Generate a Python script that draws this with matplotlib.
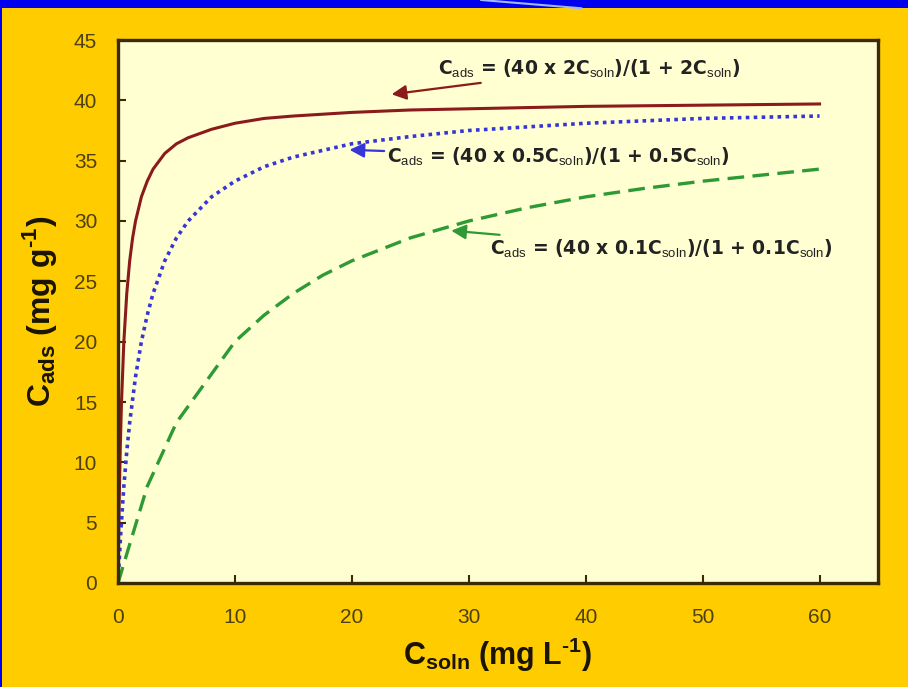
import matplotlib.pyplot as plt
from matplotlib.lines import Line2D

plt.rcParams['font.family'] = ['Liberation Sans', 'DejaVu Sans']
plt.rcParams['mathtext.fontset'] = 'custom'
plt.rcParams['mathtext.rm'] = 'Liberation Sans'
plt.rcParams['mathtext.bf'] = 'Liberation Sans:bold'

# Langmuir isotherms, values read at fixed solution concentrations
c_soln_k2 = [0, 0.05, 0.1, 0.2, 0.3, 0.5, 0.75, 1, 1.25, 1.5, 2, 2.5, 3, 4, 5, 6, 8, 10,
             12.5, 15, 20, 25, 30, 40, 50, 60]
c_ads_k2 = [0, 3.6, 6.7, 11.4, 15.0, 20.0, 24.0, 26.7, 28.6, 30.0, 32.0, 33.3, 34.3, 35.6,
            36.4, 36.9, 37.6, 38.1, 38.5, 38.7, 39.0, 39.2, 39.3, 39.5, 39.6, 39.7]

c_soln_k05 = [0, 0.25, 0.5, 0.75, 1, 1.5, 2, 2.5, 3, 4, 5, 6, 8, 10, 12.5, 15, 20, 25, 30,
              40, 50, 60]
c_ads_k05 = [0, 4.4, 8.0, 10.9, 13.3, 17.1, 20.0, 22.2, 24.0, 26.7, 28.6, 30.0, 32.0, 33.3,
             34.5, 35.3, 36.4, 37.0, 37.5, 38.1, 38.5, 38.7]

c_soln_k01 = [0, 2.5, 5, 10, 12.5, 15, 17.5, 20, 25, 30, 35, 40, 45, 50, 55, 60]
c_ads_k01 = [0, 8.0, 13.3, 20.0, 22.2, 24.0, 25.5, 26.7, 28.6, 30.0, 31.1, 32.0, 32.7, 33.3,
             33.8, 34.3]

x_ticks = [0, 10, 20, 30, 40, 50, 60]
y_ticks = [0, 5, 10, 15, 20, 25, 30, 35, 40, 45]

gold = '#FFCC00'
frame = '#3A2A08'
tick_col = '#4E4010'

fig = plt.figure(figsize=(9.08, 6.87), dpi=100, facecolor=gold)

# blue slide header and edge
fig.patches.append(plt.Rectangle((0, 0.988), 1, 0.012, transform=fig.transFigure,
                                 facecolor='#0000EE', edgecolor='none', zorder=0))
fig.patches.append(plt.Rectangle((0, 0), 0.0025, 1, transform=fig.transFigure,
                                 facecolor='#0000EE', edgecolor='none', zorder=0))
fig.lines.append(Line2D([0.53, 0.64], [1.0, 0.988], transform=fig.transFigure,
                        color='#9FB8FF', lw=1.5, zorder=1))

ax = fig.add_axes([118 / 908, 104 / 687, 760 / 908, 543 / 687])
ax.set_facecolor('#FFFFD2')

ax.plot(c_soln_k2, c_ads_k2, color='#8B1A1A', lw=2.2)
ax.plot(c_soln_k05, c_ads_k05, color='#3535D8', lw=2.6, linestyle=(0, (1, 1.2)))
ax.plot(c_soln_k01, c_ads_k01, color='#2E9A35', lw=2.4, linestyle=(0, (5, 2.5)))

ax.set_xlim(0, 65)
ax.set_ylim(0, 45)
ax.set_xticks(x_ticks)
ax.set_yticks(y_ticks)
ax.tick_params(direction='in', length=6, width=1.5, color=frame, labelcolor=tick_col,
               labelsize=15)
ax.tick_params(axis='y', pad=15)
ax.tick_params(axis='x', pad=18)
for s in ax.spines.values():
    s.set_color(frame)
    s.set_linewidth(2.4)

ax.set_xlabel('C$_{\\mathbf{soln}}$ (mg L$^{\\mathbf{\u20101}}$)', fontsize=22,
              fontweight='bold', color='#1A1400', labelpad=6)
ax.set_ylabel('C$_{\\mathbf{ads}}$ (mg g$^{\\mathbf{\u20101}}$)', fontsize=23,
              fontweight='bold', color='#1A1400', labelpad=11)

txt = dict(fontsize=13.5, fontweight='bold', color='#222222', va='center', ha='left',
           family=['DejaVu Sans'])
arrow = dict(arrowstyle='-|>', lw=1.6, mutation_scale=22, shrinkA=0, shrinkB=0)
ax.annotate(r'C$_{\mathrm{ads}}$ = (40 x 2C$_{\mathrm{soln}}$)/(1 + 2C$_{\mathrm{soln}}$)',
            xy=(23.4, 40.5), xytext=(27.4, 42.6),
            arrowprops=dict(color='#8B1A1A', **arrow), **txt)
ax.annotate(r'C$_{\mathrm{ads}}$ = (40 x 0.5C$_{\mathrm{soln}}$)/(1 + 0.5C$_{\mathrm{soln}}$)',
            xy=(19.8, 35.9), xytext=(23.0, 35.3),
            arrowprops=dict(color='#3535D8', **arrow), **txt)
ax.annotate(r'C$_{\mathrm{ads}}$ = (40 x 0.1C$_{\mathrm{soln}}$)/(1 + 0.1C$_{\mathrm{soln}}$)',
            xy=(28.5, 29.2), xytext=(31.8, 27.7),
            arrowprops=dict(color='#2E9A35', **arrow), **txt)

fig.savefig('out.png', dpi=100, facecolor=gold)
